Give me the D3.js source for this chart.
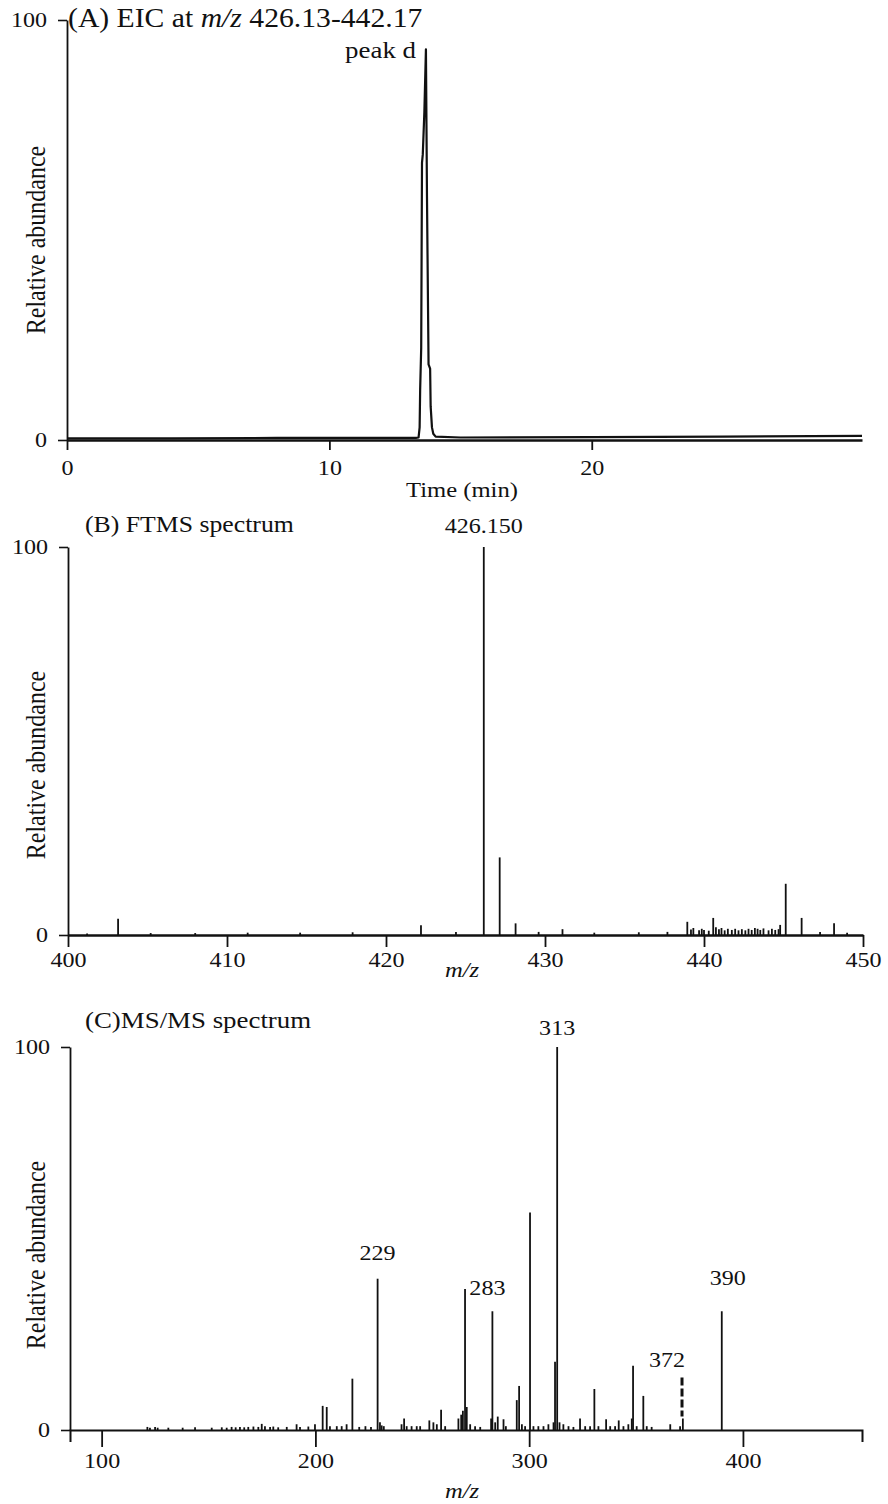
<!DOCTYPE html>
<html>
<head>
  <title>EIC / FTMS / MS-MS</title>
  <style>
    html, body { margin: 0; padding: 0; background: #fff; }
    svg { display: block; }
    text { font-family: "Liberation Serif", "Times New Roman", serif; fill: #111; }
    .axis path, .axis line { stroke: #111; }
    .axis text { font-family: "Liberation Serif", serif; font-size: 21.5px; fill: #111; }
    .peak { stroke: #111; stroke-width: 1.8px; }
    .trace { fill: none; stroke: #111; stroke-width: 2.2px; stroke-linejoin: round; }
  </style>
</head>
<body>
  <svg id="chart" width="888" height="1504"></svg>

  <script src="https://d3js.org/d3.v7.min.js"></script>
  <script>
    // ---- data ----
    // (A) extracted ion chromatogram, time (min) vs relative abundance
    const eicTime = [0, 4, 8, 12, 13.3, 13.40, 13.44, 13.46, 13.50, 13.53, 13.56, 13.62, 13.68, 13.72, 13.78, 13.84, 13.86, 13.91, 13.96, 14.05, 15, 20, 25, 30.3];
    const eicAbund = [0.4, 0.4, 0.5, 0.5, 0.5, 0.6, 3, 12, 22, 66, 68, 78, 93, 58, 18, 17, 8, 3, 1.5, 0.8, 0.6, 0.7, 0.8, 1.0];

    // (B) FTMS spectrum
    const ftmsMz = [401.2, 403.15, 405.2, 408.0, 411.3, 414.6, 417.9, 422.2, 424.4, 426.15, 427.15, 428.15, 429.6, 431.1, 433.1, 435.9, 437.7,
      438.95, 439.18, 439.33, 439.69, 439.86, 440.0, 440.3, 440.58, 440.75, 440.94, 441.1, 441.3, 441.5, 441.75, 441.96, 442.17, 442.38,
      442.6, 442.8, 443.0, 443.2, 443.37, 443.54, 443.74, 444.06, 444.27, 444.48, 444.69, 444.79, 445.14, 446.14, 447.3, 448.18, 449.0];
    const ftmsInt = [0.4, 4.2, 0.5, 0.5, 0.6, 0.6, 0.7, 2.5, 0.8, 100, 20, 3.0, 0.8, 1.5, 0.6, 0.7, 0.8,
      3.4, 1.4, 1.8, 1.2, 1.6, 1.3, 1.1, 4.4, 2.0, 1.5, 1.8, 1.2, 1.6, 1.3, 1.6, 1.2, 1.5,
      1.2, 1.6, 1.3, 1.8, 1.6, 1.3, 1.7, 1.2, 1.6, 1.3, 1.5, 2.6, 13.2, 4.4, 0.8, 3.0, 0.6];

    // (C) MS/MS spectrum
    const msmsMz = [121.4, 122.6, 125.0, 126.2, 131.2, 137.9, 143.7, 151.5, 156.2, 158.5, 160.8, 162.7, 164.7, 166.7, 168.6, 171.0, 173.3,
      174.9, 176.4, 178.8, 180.3, 182.6, 186.6, 191.2, 192.8, 196.7, 199.8, 203.4, 205.3, 206.8, 210.0, 212.3, 214.6, 217.3,
      220.5, 223.4, 226.0, 229.1, 230.2, 231.0, 232.0, 240.3, 241.5, 242.7, 245.0, 247.4, 249.0, 253.3, 255.2, 256.8, 258.8,
      260.7, 266.9, 268.2, 269.0, 270.0, 270.8, 272.4, 274.7, 277.1, 282.2, 282.8, 284.1, 285.3, 288.0, 289.1, 294.2, 295.3,
      296.6, 298.1, 300.4, 302.0, 304.3, 306.7, 309.0, 311.4, 312.1, 313.1, 314.2, 316.0, 318.4, 320.7, 323.8, 326.2, 328.5,
      330.5, 332.4, 336.0, 337.9, 340.2, 341.9, 344.1, 346.4, 348.0, 348.6, 350.3, 353.4, 355.0, 357.3, 366.0, 370.6, 371.9, 390.1];
    const msmsInt = [0.8, 0.6, 0.8, 0.6, 0.6, 0.6, 0.7, 0.6, 0.7, 0.6, 0.8, 0.7, 0.8, 0.7, 0.8, 0.9, 0.8,
      1.6, 1.0, 0.8, 0.9, 0.7, 0.8, 1.5, 0.8, 0.9, 1.5, 6.3, 6.0, 1.0, 1.0, 1.0, 1.5, 13.4,
      0.8, 1.0, 0.8, 39.5, 2.0, 1.2, 1.0, 1.5, 3.0, 1.0, 1.0, 1.0, 1.0, 2.5, 2.0, 1.5, 5.3,
      1.0, 3.0, 4.0, 5.0, 36.8, 6.0, 1.5, 1.0, 0.8, 3.0, 31.0, 2.0, 3.5, 2.8, 1.0, 7.8, 11.5,
      1.5, 1.0, 56.8, 1.0, 1.0, 1.0, 1.5, 2.0, 17.8, 100, 2.0, 1.5, 1.0, 0.8, 3.0, 1.0, 1.0,
      10.7, 1.0, 2.8, 1.0, 1.0, 2.5, 1.0, 1.5, 3.0, 16.8, 1.0, 8.9, 1.0, 0.8, 1.5, 1.0, 3.0, 31.0];
    // 372 is drawn dashed
    const dashedMz = [371.5];
    const dashedInt = [13.7];

    const msmsLabels = ["229", "283", "313", "372", "390"];
    const msmsLabelMz = [229.1, 282.8, 313.1, 371.5, 390.1];
    const msmsLabelInt = [39.5, 31.0, 100, 13.7, 31.0];

    const yTicks = [0, 100];
    const eicTicks = [0, 10, 20];
    const ftmsTicks = [400, 410, 420, 430, 440, 450];
    const msmsTicks = [100, 200, 300, 400];

    // ---- layout ----
    const SX = 1.12; // scanned figure is a bit wider than tall
    const svg = d3.select("#chart");

    function label(g, x, y, opts = {}) {
      const t = g.append("text")
        .attr("transform", `translate(${x},${y}) scale(${SX},1)`)
        .attr("text-anchor", opts.anchor || "start")
        .style("font-size", (opts.size || 24) + "px");
      if (opts.italic) t.style("font-style", "italic");
      return t;
    }

    function title(g, x, y, parts, size) {
      const t = label(g, x, y, { size: size });
      parts.forEach(p => {
        t.append("tspan").text(p[0]).style("font-style", p[1] ? "italic" : "normal");
      });
    }

    function yLabel(g, x, y) {
      g.append("text")
        .attr("transform", `translate(${x},${y}) rotate(-90) scale(1,${SX})`)
        .attr("text-anchor", "middle")
        .style("font-size", "24px")
        .text("Relative abundance");
    }

    function axes(x, y, ticks, o) {
      const xa = svg.append("g").attr("class", "axis")
        .attr("transform", `translate(0,${y(0)})`)
        .call(d3.axisBottom(x).tickValues(ticks).tickSize(o.tick).tickSizeOuter(o.outer).tickPadding(o.pad).tickFormat(d3.format("d")));
      xa.select(".domain").attr("stroke-width", o.base);
      xa.selectAll(".tick line").attr("stroke-width", 1.8);
      xa.selectAll(".tick text").attr("transform", `scale(${SX},1)`);

      const ya = svg.append("g").attr("class", "axis")
        .attr("transform", `translate(${x.range()[0]},0)`)
        .call(d3.axisLeft(y).tickValues(yTicks).tickSize(9).tickSizeOuter(0).tickPadding(7));
      ya.select(".domain").attr("stroke-width", 1.8);
      ya.selectAll(".tick line").attr("stroke-width", 1.6);
      ya.selectAll(".tick text").attr("transform", `scale(${SX},1)`).attr("x", -20 / SX);
      return [xa, ya];
    }

    // ---- (A) EIC ----
    const xA = d3.scaleLinear().domain([0, 30.3]).range([67, 862]);
    const yA = d3.scaleLinear().domain([0, 100]).range([440, 20]);
    axes(xA, yA, eicTicks, { tick: 10, outer: 0, pad: 10, base: 2.5 });
    svg.append("path")
      .attr("class", "trace")
      .attr("d", d3.line().x(d => xA(d[0])).y(d => yA(d[1]))(d3.zip(eicTime, eicAbund)));
    title(svg, 68, 27, [["(A) EIC at "], ["m/z", true], [" 426.13-442.17"]], 26.5);
    label(svg, 416, 58, { anchor: "end", size: 24 }).text("peak d");
    label(svg, 462, 497, { anchor: "middle", size: 22 }).text("Time (min)");
    yLabel(svg, 45, 240);

    // ---- (B) FTMS spectrum ----
    const xB = d3.scaleLinear().domain([400, 450]).range([68, 863]);
    const yB = d3.scaleLinear().domain([0, 100]).range([935, 547]);
    axes(xB, yB, ftmsTicks, { tick: 12, outer: 0, pad: 5, base: 2.5 });
    svg.append("g").selectAll("line")
      .data(d3.zip(ftmsMz, ftmsInt))
      .join("line")
      .attr("class", "peak")
      .attr("x1", d => xB(d[0])).attr("x2", d => xB(d[0]))
      .attr("y1", yB(0)).attr("y2", d => yB(d[1]));
    title(svg, 85, 532, [["(B) FTMS spectrum"]], 23);
    label(svg, xB(426.15), 533, { anchor: "middle", size: 21.5 }).text("426.150");
    label(svg, 462, 977, { anchor: "middle", size: 22, italic: true }).text("m/z");
    yLabel(svg, 45, 765);

    // ---- (C) MS/MS spectrum ----
    const xC = d3.scaleLinear().domain([85.2, 455.7]).range([70, 862]);
    const yC = d3.scaleLinear().domain([0, 100]).range([1430, 1047]);
    axes(xC, yC, msmsTicks, { tick: 17, outer: 12, pad: 6, base: 2 });
    svg.append("g").selectAll("line")
      .data(d3.zip(msmsMz, msmsInt))
      .join("line")
      .attr("class", "peak")
      .attr("x1", d => xC(d[0])).attr("x2", d => xC(d[0]))
      .attr("y1", yC(0)).attr("y2", d => yC(d[1]));
    svg.append("g").selectAll("line")
      .data(d3.zip(dashedMz, dashedInt))
      .join("line")
      .attr("stroke", "#111").attr("stroke-width", 3).attr("stroke-dasharray", "8 3")
      .attr("x1", d => xC(d[0])).attr("x2", d => xC(d[0]))
      .attr("y1", d => yC(d[1])).attr("y2", yC(3.5));
    // small nudges so labels sit where the original put them
    const nudgeX = { "229": 0, "283": -5, "313": 0, "372": -15, "390": 6 };
    const nudgeY = { "229": 19, "283": 16, "313": 12, "372": 11, "390": 26 };
    msmsLabels.forEach((t, i) => {
      label(svg, xC(msmsLabelMz[i]) + nudgeX[t], yC(msmsLabelInt[i]) - nudgeY[t], { anchor: "middle", size: 21.5 }).text(t);
    });
    title(svg, 85, 1028, [["(C)MS/MS spectrum"]], 24);
    label(svg, 462, 1498, { anchor: "middle", size: 22, italic: true }).text("m/z");
    yLabel(svg, 45, 1255);
  </script>
</body>
</html>
